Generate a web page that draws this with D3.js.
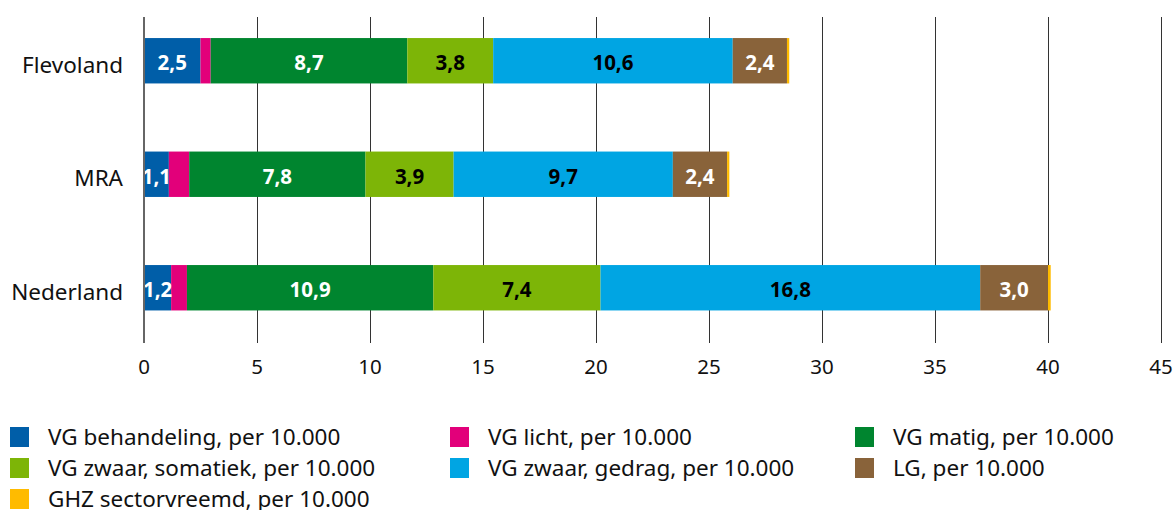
<!DOCTYPE html>
<html>
<head>
<meta charset="utf-8">
<script src="https://cdn.jsdelivr.net/npm/d3@7"></script>
<style>
  body { margin: 0; background: #fff; }
  svg text { font-family: "Noto Sans", "Open Sans", sans-serif; }
</style>
</head>
<body>
<svg id="chart" width="1175" height="510"></svg>
<script>
// regions and series
var regions = ["Flevoland", "MRA", "Nederland"];
var seriesNames = [
  "VG behandeling, per 10.000",
  "VG licht, per 10.000",
  "VG matig, per 10.000",
  "VG zwaar, somatiek, per 10.000",
  "VG zwaar, gedrag, per 10.000",
  "LG, per 10.000",
  "GHZ sectorvreemd, per 10.000"
];
var vgBehandeling = [2.5, 1.1, 1.2];
var vgLicht       = [0.45, 0.9, 0.7];
var vgMatig       = [8.7, 7.8, 10.9];
var vgZwaarSom    = [3.8, 3.9, 7.4];
var vgZwaarGedrag = [10.6, 9.7, 16.8];
var lg            = [2.4, 2.4, 3.0];
var ghz           = [0.1, 0.1, 0.12];
var xTicks = [0, 5, 10, 15, 20, 25, 30, 35, 40, 45];

var colors = ["#005ea8", "#e2007a", "#00852f", "#7db507", "#00a5e3", "#89633a", "#ffbb00"];
var labelColors = ["#fff", null, "#fff", "#000", "#000", "#fff", null];

var allSeries = [vgBehandeling, vgLicht, vgMatig, vgZwaarSom, vgZwaarGedrag, lg, ghz];

var svg = d3.select("#chart");

var x = d3.scaleLinear().domain([0, 45]).range([144, 1161]);
var y = d3.scaleBand().domain(regions).range([4, 344.5])
    .paddingInner(0.6).paddingOuter(0.3);

// gridlines
svg.append("g")
  .selectAll("line")
  .data(xTicks.slice(1))
  .enter().append("line")
    .attr("x1", function(d) { return x(d) + 0.5; })
    .attr("x2", function(d) { return x(d) + 0.5; })
    .attr("y1", 17)
    .attr("y2", 343)
    .attr("stroke", "#333")
    .attr("stroke-width", 1);

// stacked bars
var rows = regions.map(function(r, i) {
  var o = {region: r};
  allSeries.forEach(function(s, k) { o["s" + k] = s[i]; });
  return o;
});
var keys = allSeries.map(function(s, k) { return "s" + k; });
var stacked = d3.stack().keys(keys)(rows);

var layer = svg.append("g")
  .selectAll("g")
  .data(stacked)
  .enter().append("g")
    .attr("fill", function(d, k) { return colors[k]; });

layer.selectAll("rect")
  .data(function(d) { return d; })
  .enter().append("rect")
    .attr("x", function(d) { return x(d[0]); })
    .attr("width", function(d) { return x(d[1]) - x(d[0]); })
    .attr("y", function(d) { return y(d.data.region); })
    .attr("height", y.bandwidth());

// value labels
stacked.forEach(function(s, k) {
  if (!labelColors[k]) return;
  svg.append("g")
    .selectAll("text")
    .data(s)
    .enter().append("text")
      .attr("x", function(d) { return (x(d[0]) + x(d[1])) / 2; })
      .attr("y", function(d) { return y(d.data.region) + y.bandwidth() / 2 + 2; })
      .attr("dy", "0.36em")
      .attr("text-anchor", "middle")
      .attr("font-size", 20.5)
      .attr("font-weight", "bold")
      .attr("fill", labelColors[k])
      .text(function(d) { return d3.format(".1f")(d[1] - d[0]).replace(".", ","); });
});

// left axis line
svg.append("line")
  .attr("x1", x(0)).attr("x2", x(0))
  .attr("y1", 17).attr("y2", 343)
  .attr("stroke", "#666")
  .attr("stroke-width", 2);

// x tick labels
svg.append("g")
  .selectAll("text")
  .data(xTicks)
  .enter().append("text")
    .attr("x", function(d) { return x(d); })
    .attr("y", 374)
    .attr("text-anchor", "middle")
    .attr("font-size", 20.5)
    .attr("fill", "#111")
    .text(function(d) { return d; });

// category labels
svg.append("g")
  .selectAll("text")
  .data(regions)
  .enter().append("text")
    .attr("x", 123)
    .attr("y", function(d) { return y(d) + y.bandwidth() / 2 + 4; })
    .attr("dy", "0.36em")
    .attr("text-anchor", "end")
    .attr("font-size", 22.5)
    .attr("fill", "#111")
    .text(function(d) { return d; });

// legend
var legendX = [10, 450, 855];
var legend = svg.append("g")
  .selectAll("g")
  .data(seriesNames)
  .enter().append("g")
    .attr("transform", function(d, i) {
      return "translate(" + legendX[i % 3] + "," + (437 + Math.floor(i / 3) * 31) + ")";
    });

legend.append("rect")
  .attr("x", 0).attr("y", -10)
  .attr("width", 19).attr("height", 20)
  .attr("fill", function(d, i) { return colors[i]; });

legend.append("text")
  .attr("x", 38)
  .attr("y", 0)
  .attr("dy", "0.36em")
  .attr("font-size", 22.5)
  .attr("fill", "#111")
  .text(function(d) { return d; });
</script>
</body>
</html>
